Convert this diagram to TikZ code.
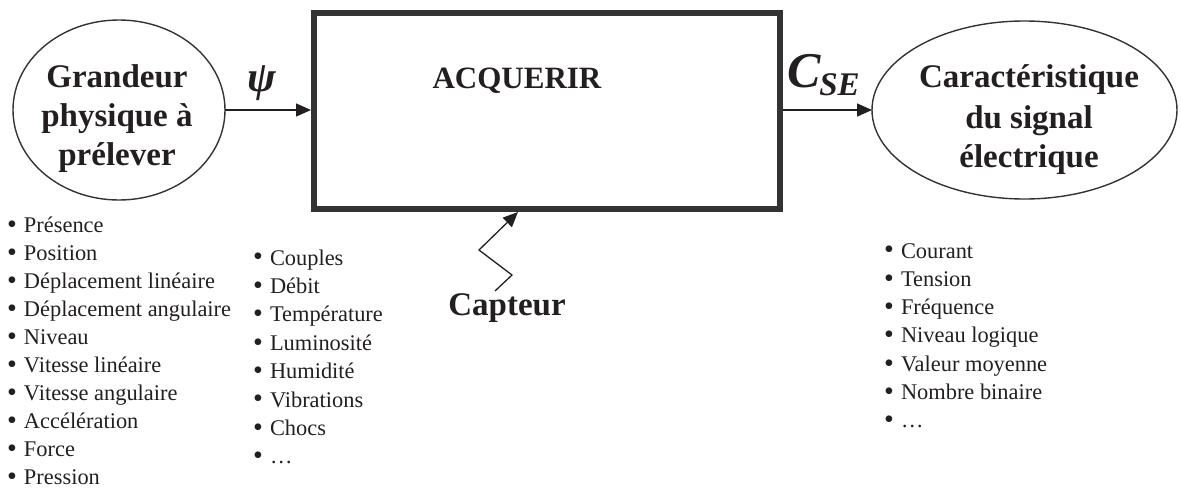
\documentclass[tikz,border=0pt]{standalone}
\usepackage{fontspec}
\setmainfont{Liberation Serif}
\usetikzlibrary{arrows.meta,shapes.geometric,calc}
\definecolor{ink}{HTML}{231F20}
\definecolor{frame}{HTML}{333333}
\begin{document}
\begin{tikzpicture}[x=1pt,y=-1pt,
  every node/.style={text=ink, inner sep=0pt, outer sep=0pt},
  bubble/.style={draw=frame, line width=1.4pt, ellipse, inner sep=0pt},
  title/.style={font=\fontsize{33}{33}\selectfont\bfseries, anchor=base},
  item/.style={font=\fontsize{22.4}{22.4}\selectfont, anchor=base west},
  flow/.style={draw=ink, line width=1.5pt, -{Triangle[length=15pt,width=13pt]}},
]
\useasboundingbox (0,0) rectangle (1181,490);

% function block
\node[draw=frame, line width=6pt, outer sep=3pt,
      minimum width=466pt, minimum height=196.5pt] (box) at (547,110.75) {};
\node[font=\fontsize{31}{31}\selectfont\bfseries, anchor=base] (acq) at (517,88) {ACQUERIR};

% input and output quantities
\node[bubble, minimum width=212pt, minimum height=180pt] (gp) at (119,110) {};
\node[title] (gp1) at (117,87)  {Grandeur};
\node[title] (gp2) at (117,126) {physique à};
\node[title] (gp3) at (117,165) {prélever};

\node[bubble, minimum width=305pt, minimum height=178pt] (cs) at (1024.5,110) {};
\node[title] (cs1) at (1029,87)  {Caractéristique};
\node[title] (cs2) at (1029,128) {du signal};
\node[title] (cs3) at (1029,167) {électrique};

% flows
\draw[flow] (gp.east) -- (gp.east -| box.west);
\draw[flow] (cs.west -| box.east) -- (cs.west);
\node (psi) at (262,83) {\fontsize{43}{43}\selectfont\bfseries\itshape ψ};
\node[anchor=base west] (cse) at (787,87)
  {\bfseries\itshape\fontsize{50}{50}\selectfont C\kern-1pt\raisebox{-8pt}{\fontsize{33}{33}\selectfont SE}};

% sensor
\node[font=\fontsize{33}{33}\selectfont\bfseries, anchor=base] (cap) at (507,315) {Capteur};
\coordinate (z0) at (495,291);
\coordinate (z1) at (512,275);
\coordinate (z2) at (479,250);
\coordinate (zx) at (518,0);
\draw[flow, line width=1.3pt] (z0) -- (z1) -- (z2) -- (box.south -| zx);

% lists
\newcommand{\bul}{\makebox[17pt][l]{\smash{\raisebox{-0.9pt}{\scalebox{1.25}{•}}}}}
\foreach \t [count=\i from 0] in {Présence,Position,Déplacement linéaire,Déplacement angulaire,Niveau,Vitesse linéaire,Vitesse angulaire,Accélération,Force,Pression}
  \node[item] (in\i) at (7,232.5+28*\i) {\bul\t};
\foreach \t [count=\i from 0] in {Couples,Débit,Température,Luminosité,Humidité,Vibrations,Chocs,…}
  \node[item] (im\i) at (253,265+28.4*\i) {\bul\t};
\foreach \t [count=\i from 0] in {Courant,Tension,Fréquence,Niveau logique,Valeur moyenne,Nombre binaire,…}
  \node[item] (out\i) at (884,258+28.3*\i) {\bul\t};
\end{tikzpicture}
\end{document}
